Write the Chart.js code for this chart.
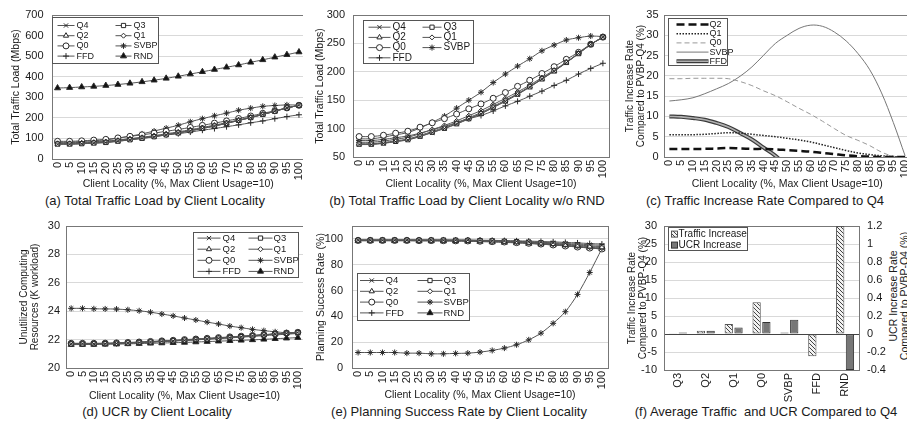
<!DOCTYPE html>
<html>
<head>
<meta charset="utf-8">
<script src="https://cdn.jsdelivr.net/npm/chart.js@4.4.1/dist/chart.umd.min.js"></script>
<style>
  html, body { margin: 0; padding: 0; background: #fff; overflow: hidden; }
  #page { position: relative; width: 907px; height: 421px; overflow: hidden; font-family: "Liberation Sans", Arial, sans-serif; color: #1a1a1a; }
  #leftcol { position: absolute; left: 0; top: 0; width: 303px; height: 421px; overflow: hidden; }
  .caption { position: absolute; width: 300px; font-size: 13px; line-height: 15px; text-align: center; white-space: pre; }
  .rtitle { position: absolute; width: 170px; height: 22px; font-size: 10.5px; line-height: 11px; text-align: center; white-space: nowrap; transform: rotate(-90deg); }
</style>
</head>
<body>
<div id="page">
  <div id="leftcol"></div>
  <div class="caption" style="left:5px;top:193px">(a) Total Traffic Load by Client Locality</div>
  <div class="caption" style="left:317px;top:193px">(b) Total Traffic Load by Client Locality w/o RND</div>
  <div class="caption" style="left:615px;top:193px">(c) Traffic Increase Rate Compared to Q4</div>
  <div class="caption" style="left:7px;top:404px">(d) UCR by Client Locality</div>
  <div class="caption" style="left:309px;top:404px">(e) Planning Success Rate by Client Locality</div>
  <div class="caption" style="left:616px;top:404px">(f) Average Traffic  and UCR Compared to Q4</div>
  <div class="rtitle" style="left:814px;top:285px">UCR Increase Rate<br>Compared to PVBP-Q4 (%)</div>
</div>
<script>
// ---- data ----
const locality = ['0', '5', '10', '15', '20', '25', '30', '35', '40', '45', '50',
    '55', '60', '65', '70', '75', '80', '85', '90', '95', '100'];

// total traffic load (Mbps)
const q4Traffic = [72, 72, 74, 77, 80, 86, 93, 100, 108, 117, 126, 137, 148, 160, 173, 187, 201, 216, 232, 248, 261];
const q3Traffic = [72.5, 72.5, 74.5, 77.5, 80.5, 86.5, 93.5, 100.5, 108.5, 117.5, 126.5, 137.5, 148.5, 160.5, 173.5, 187.5, 201.5, 216.5, 232, 248, 261];
const q2Traffic = [73.4, 73.4, 75.5, 78.5, 81.7, 87.9, 95, 102, 110.2, 119.2, 128.1, 139.1, 149.9, 161.6, 174.2, 187.7, 201.4, 216.2, 232, 248, 261];
const q1Traffic = [76, 76, 78.1, 81.2, 84.6, 91.2, 98.4, 105.5, 113.6, 122.7, 131.7, 142.5, 153.2, 164.5, 176.5, 189.8, 203, 217.1, 232.7, 248.5, 261];
const q0Traffic = [86, 86, 88.3, 91.9, 95.4, 102.5, 110.2, 117.5, 125.6, 134.8, 143.4, 153.4, 163.5, 174.4, 185.1, 196.9, 209, 222, 234.3, 248.5, 261];
const svbpTraffic = [82, 82, 85, 89, 93, 101, 111, 122, 136, 150, 164, 181, 196, 210, 223, 237, 247, 256, 260, 263, 262];
const ffdTraffic = [79, 79, 81, 84, 87, 92, 98, 104, 110.5, 117.4, 123, 131, 140, 148, 157, 166, 176, 185, 196, 206, 215];
const rndTraffic = [345, 347, 350, 353, 357, 362, 368, 375, 383, 392, 402, 413, 424, 435, 446, 457, 470, 482, 495, 507, 520];

// traffic increase rate compared to Q4 (%)
const q2Rate = [2, 2, 2, 2, 2.1, 2.2, 2.1, 2, 2, 1.9, 1.7, 1.5, 1.3, 1, 0.7, 0.4, 0.2, 0.1, 0, 0, 0];
const q1Rate = [5.5, 5.5, 5.5, 5.6, 5.8, 6, 5.9, 5.6, 5.3, 5, 4.6, 4.2, 3.7, 3, 2.3, 1.6, 1, 0.6, 0.3, 0.1, 0];
const q0Rate = [19.3, 19.3, 19.4, 19.4, 19.4, 19.3, 18.6, 17.6, 16.3, 15.1, 13.6, 12, 10.5, 8.8, 7, 5.3, 4.1, 2.8, 1.2, 0.2, 0];
const svbpRate = [13.8, 14.1, 14.6, 15.6, 16.8, 18.1, 19.9, 22.2, 25.1, 28, 30, 31.7, 32.5, 32.2, 30.8, 28.6, 25.5, 21.5, 15.8, 8.5, 0.3];
const ffdRate = [10, 9.9, 9.6, 9.2, 8.4, 7.4, 5.9, 4.3, 2.3, 0.3, -2.4, -4.4, -5.4, -7.5, -9.2, -11.2, -12.4, -14.4, -15.5, -16.9, -17.6];

// unutilized computing resources (K workload)
const q4Ucr = [21.70, 21.70, 21.70, 21.71, 21.73, 21.76, 21.79, 21.83, 21.87, 21.91, 21.95, 22.00, 22.04, 22.09, 22.14, 22.20, 22.26, 22.32, 22.38, 22.44, 22.50];
const q3Ucr = [21.70, 21.70, 21.71, 21.72, 21.74, 21.77, 21.80, 21.84, 21.88, 21.92, 21.96, 22.01, 22.05, 22.10, 22.15, 22.21, 22.27, 22.33, 22.39, 22.44, 22.50];
const q2Ucr = [21.71, 21.71, 21.71, 21.72, 21.74, 21.77, 21.80, 21.84, 21.88, 21.92, 21.97, 22.01, 22.06, 22.11, 22.16, 22.21, 22.27, 22.33, 22.39, 22.45, 22.50];
const q1Ucr = [21.72, 21.72, 21.72, 21.73, 21.75, 21.78, 21.81, 21.85, 21.89, 21.93, 21.98, 22.02, 22.07, 22.12, 22.17, 22.22, 22.28, 22.34, 22.40, 22.45, 22.50];
const q0Ucr = [21.74, 21.74, 21.74, 21.75, 21.77, 21.80, 21.83, 21.87, 21.91, 21.95, 22.00, 22.04, 22.09, 22.14, 22.19, 22.24, 22.29, 22.35, 22.40, 22.46, 22.51];
const svbpUcr = [24.20, 24.20, 24.17, 24.16, 24.15, 24.10, 24.03, 23.93, 23.80, 23.67, 23.52, 23.38, 23.23, 23.10, 22.95, 22.84, 22.72, 22.63, 22.55, 22.48, 22.45];
const ffdUcr = [21.70, 21.70, 21.70, 21.71, 21.73, 21.75, 21.78, 21.82, 21.86, 21.90, 21.94, 21.98, 22.03, 22.07, 22.12, 22.17, 22.22, 22.28, 22.33, 22.38, 22.43];
const rndUcr = [21.65, 21.65, 21.66, 21.67, 21.68, 21.70, 21.72, 21.74, 21.76, 21.78, 21.80, 21.83, 21.86, 21.89, 21.92, 21.95, 21.98, 22.02, 22.06, 22.10, 22.14];

// planning success rate (%)
const q4Success = [99, 99, 99, 99, 99, 99, 99, 99, 99, 99, 98.8, 98.6, 98.4, 98.1, 97.8, 97.4, 97, 96.5, 96, 95.5, 95];
const q3Success = [99, 99, 99, 99, 99, 99, 99, 99, 98.9, 98.9, 98.7, 98.5, 98.2, 97.9, 97.5, 97, 96.5, 95.9, 95.3, 94.6, 94];
const q2Success = [99, 99, 99, 99, 99, 99, 99, 98.9, 98.9, 98.8, 98.6, 98.4, 98.1, 97.7, 97.3, 96.7, 96.1, 95.4, 94.7, 94, 93.3];
const q1Success = [99, 99, 99, 99, 99, 98.9, 98.9, 98.8, 98.8, 98.7, 98.5, 98.3, 97.9, 97.5, 97, 96.4, 95.8, 95, 94.2, 93.5, 92.8];
const q0Success = [98.8, 98.8, 98.8, 98.8, 98.8, 98.7, 98.7, 98.6, 98.5, 98.4, 98.2, 97.9, 97.6, 97.1, 96.6, 96, 95.3, 94.5, 93.7, 92.9, 92.2];
const svbpSuccess = [12, 12, 12, 12, 11.5, 11.5, 11, 11, 11.3, 11.5, 12.3, 13.6, 15.4, 18, 21.8, 27, 34.6, 43.6, 57, 74, 92.5];
const ffdSuccess = [99.2, 99.2, 99.2, 99.2, 99.2, 99.2, 99.2, 99.2, 99.1, 99.1, 99, 98.9, 98.7, 98.5, 98.3, 98, 97.7, 97.3, 96.9, 96.4, 96];
const rndSuccess = [98.5, 98.5, 98.5, 98.5, 98.5, 98.4, 98.4, 98.3, 98.2, 98.1, 97.9, 97.6, 97.3, 96.9, 96.4, 95.9, 95.3, 94.6, 93.8, 93, 92.2];

// averages compared to Q4 (%)
const algorithms = ['Q3', 'Q2', 'Q1', 'Q0', 'SVBP', 'FFD', 'RND'];
const trafficAvg = [0.2, 0.9, 2.75, 8.85, 0.45, -6.2, 30];
const ucrAvg = [0.018, 0.037, 0.073, 0.132, 0.158, -0.005, -0.4];

// ---- drawing ----
const textColor = '#1a1a1a';
const fontFamily = '"Liberation Sans", Arial, sans-serif';
Chart.defaults.font.family = fontFamily;
Chart.defaults.color = textColor;

const xTitleText = 'Client Locality (%, Max Client Usage=10)';

function addCanvas(p) {
    const cv = document.createElement('canvas');
    cv.width = p.x1 - p.x0;
    cv.height = p.y1 - p.y0;
    cv.style.position = 'absolute';
    cv.style.left = p.x0 + 'px';
    cv.style.top = p.y0 + 'px';
    document.getElementById(p.parent || 'page').appendChild(cv);
    return cv;
}

// plot border, drawn over the grid lines
const frame = {
    id: 'frame',
    beforeDatasetsDraw(chart) {
        const a = chart.chartArea, ctx = chart.ctx;
        ctx.save();
        ctx.strokeStyle = '#777';
        ctx.lineWidth = 1;
        ctx.strokeRect(Math.round(a.left) + 0.5, Math.round(a.top) + 0.5,
            Math.round(a.right - a.left), Math.round(a.bottom - a.top));
        ctx.restore();
    }
};

// legend box inside the plot area (Excel style)
function boxLegend(spec) {
    return {
        id: 'boxLegend',
        afterDraw(chart) {
            const ctx = chart.ctx, a = chart.chartArea;
            const bx = Math.round(a.left + spec.x) + 0.5;
            const by = Math.round(a.top + spec.y) + 0.5;
            ctx.save();
            ctx.fillStyle = '#fff';
            ctx.fillRect(bx, by, spec.w, spec.h);
            ctx.strokeStyle = '#555';
            ctx.lineWidth = 1;
            ctx.strokeRect(bx, by, spec.w, spec.h);
            ctx.font = spec.font + 'px ' + fontFamily;
            ctx.textBaseline = 'middle';
            spec.items.forEach((item, i) => {
                const col = spec.cols[i % spec.cols.length];
                const cy = by + spec.first + Math.floor(i / spec.cols.length) * spec.rowH;
                [].concat(item.ds).forEach(k => {
                    const ds = chart.data.datasets[k];
                    if (chart.config.type === 'bar') {
                        ctx.fillStyle = ds.backgroundColor;
                        ctx.fillRect(bx + col.l0, cy - 3, col.l1 - col.l0, 6);
                        ctx.strokeStyle = ds.borderColor;
                        ctx.lineWidth = 1;
                        ctx.strokeRect(bx + col.l0, cy - 3, col.l1 - col.l0, 6);
                        return;
                    }
                    ctx.strokeStyle = ds.borderColor;
                    ctx.lineWidth = ds.borderWidth;
                    ctx.setLineDash(ds.borderDash || []);
                    ctx.beginPath();
                    ctx.moveTo(bx + col.l0, cy);
                    ctx.lineTo(bx + col.l1, cy);
                    ctx.stroke();
                    ctx.setLineDash([]);
                    if (ds.pointRadius > 0 && Chart.helpers && Chart.helpers.drawPoint) {
                        ctx.fillStyle = ds.pointBackgroundColor;
                        ctx.strokeStyle = ds.pointBorderColor;
                        ctx.lineWidth = ds.pointBorderWidth;
                        Chart.helpers.drawPoint(ctx, {
                            pointStyle: ds.pointStyle, radius: ds.pointRadius,
                            rotation: 0, borderWidth: ds.pointBorderWidth
                        }, bx + (col.l0 + col.l1) / 2, cy);
                    }
                });
                ctx.fillStyle = textColor;
                ctx.fillText(item.label, bx + col.tx, cy);
            });
            ctx.restore();
        }
    };
}

function series(label, data, style, fill, radius) {
    return {
        label: label,
        data: data,
        borderColor: '#555',
        borderWidth: 1,
        pointStyle: style,
        pointRadius: radius || 3,
        pointBackgroundColor: fill || '#fff',
        pointBorderColor: '#2a2a2a',
        pointBorderWidth: 1,
        tension: 0.3,
        fill: false
    };
}

function xAxis(p) {
    return {
        type: 'category',
        offset: true,
        grid: { display: false, drawTicks: false },
        border: { display: false },
        ticks: { autoSkip: false, minRotation: 90, maxRotation: 90, padding: 3, font: { size: 11 } },
        title: {
            display: !!p.xTitleY, text: xTitleText, font: { size: 10.5, lineHeight: 1 },
            padding: { top: 0, bottom: p.y1 - (p.xTitleY || 0) - 5.25 }
        },
        afterFit: s => { s.height = p.y1 - p.area.b; s.paddingLeft = 0; s.paddingRight = 0; }
    };
}

function yAxis(p) {
    // two-line titles are a bit smaller with a little more line gap
    const twoLines = Array.isArray(p.yTitle);
    const size = twoLines ? 10 : 10.5;
    const lh = twoLines ? 1.1 : 1;
    return {
        min: p.min,
        max: p.max,
        grid: { color: p.gridColor || '#d9d9d9', drawTicks: false },
        border: { display: false },
        ticks: { stepSize: p.step, padding: p.tickPad, font: { size: 11 }, includeBounds: false },
        title: {
            display: true, text: p.yTitle, font: { size: size, lineHeight: lh },
            padding: { top: p.yTitleX - p.x0 - size * lh / 2, bottom: 0 }
        },
        afterFit: s => { s.width = p.area.l - p.x0; s.paddingTop = 0; s.paddingBottom = 0; }
    };
}

function lineChart(p, datasets, legend) {
    return new Chart(addCanvas(p), {
        type: 'line',
        data: { labels: locality, datasets: datasets },
        options: {
            responsive: false,
            animation: false,
            events: [],
            layout: { padding: { left: 0, top: p.area.t - p.y0, right: p.x1 - p.area.r, bottom: 0 } },
            plugins: { legend: { display: false }, tooltip: { enabled: false } },
            scales: { x: xAxis(p), y: yAxis(p) }
        },
        plugins: [frame, boxLegend(legend)]
    });
}

const eightLegend = [
    { label: 'Q4', ds: 0 }, { label: 'Q3', ds: 1 }, { label: 'Q2', ds: 2 }, { label: 'Q1', ds: 3 },
    { label: 'Q0', ds: 4 }, { label: 'SVBP', ds: 5 }, { label: 'FFD', ds: 6 }, { label: 'RND', ds: 7 }
];

function allSeries(q4, q3, q2, q1, q0, svbp, ffd, rnd) {
    const list = [
        series('Q4', q4, 'crossRot'),
        series('Q3', q3, 'rect'),
        series('Q2', q2, 'triangle'),
        series('Q1', q1, 'rectRot', '#fff', 2.5),
        series('Q0', q0, 'circle'),
        series('SVBP', svbp, 'star'),
        series('FFD', ffd, 'cross')
    ];
    if (rnd) list.push(series('RND', rnd, 'triangle', '#111', 3.5));
    return list;
}

// (a)
lineChart({
    parent: 'leftcol', x0: 0, y0: 0, x1: 320, y1: 192,
    area: { l: 51.5, t: 15, r: 305, b: 159 },
    min: 0, max: 700, step: 100, tickPad: 8,
    yTitle: 'Total Traffic Load (Mbps)', yTitleX: 16.5, xTitleY: 184
}, allSeries(q4Traffic, q3Traffic, q2Traffic, q1Traffic, q0Traffic, svbpTraffic, ffdTraffic, rndTraffic), {
    x: 0.5, y: 2, w: 106, h: 46, first: 8, rowH: 10.2, font: 9,
    cols: [{ l0: 5, l1: 22, tx: 24 }, { l0: 63, l1: 79, tx: 81 }], items: eightLegend
});

// (b)
lineChart({
    x0: 308, y0: 0, x1: 622, y1: 192,
    area: { l: 353, t: 15, r: 609, b: 157 },
    min: 50, max: 300, step: 50, tickPad: 8,
    yTitle: 'Total Traffic Load (Mbps)', yTitleX: 320.5, xTitleY: 184
}, allSeries(q4Traffic, q3Traffic, q2Traffic, q1Traffic, q0Traffic, svbpTraffic, ffdTraffic), {
    x: 10, y: 5, w: 110, h: 43, first: 6.7, rowH: 10.2, font: 10,
    cols: [{ l0: 5, l1: 27, tx: 29 }, { l0: 59, l1: 78, tx: 80 }], items: eightLegend.slice(0, 7)
});

// (c)
function rateLine(label, data, color, width, dash) {
    return { label: label, data: data, borderColor: color, borderWidth: width, borderDash: dash,
        pointRadius: 0, tension: 0.35, fill: false };
}
lineChart({
    x0: 614, y0: 0, x1: 925, y1: 192,
    area: { l: 663.5, t: 15, r: 911, b: 157 },
    min: 0, max: 35, step: 5, tickPad: 5,
    yTitle: ['Traffic Increase Rate', 'Compared to PVBP-Q4 (%)'], yTitleX: 630.5, xTitleY: 184
}, [
    rateLine('Q2', q2Rate, '#111', 2.5, [8, 4]),
    rateLine('Q1', q1Rate, '#222', 1.5, [1.5, 1.5]),
    rateLine('Q0', q0Rate, '#999', 1, [5, 3]),
    rateLine('SVBP', svbpRate, '#777', 1, []),
    rateLine('FFD', ffdRate, '#b0b0b0', 1.6, []),
    rateLine('FFD', ffdRate, '#3a3a3a', 4, [])
], {
    x: 4.5, y: 3, w: 59, h: 47, first: 6, rowH: 9.2, font: 9,
    cols: [{ l0: 8, l1: 40, tx: 41 }],
    items: [{ label: 'Q2', ds: 0 }, { label: 'Q1', ds: 1 }, { label: 'Q0', ds: 2 },
        { label: 'SVBP', ds: 3 }, { label: 'FFD', ds: [5, 4] }]
});

// (d)
lineChart({
    parent: 'leftcol', x0: 0, y0: 212, x1: 320, y1: 403,
    area: { l: 65.5, t: 226, r: 303.5, b: 368 },
    min: 20, max: 30, step: 2, tickPad: 5.5,
    yTitle: ['Unutilized Computing', 'Resources (K workload)'], yTitleX: 24.5, xTitleY: 396
}, allSeries(q4Ucr, q3Ucr, q2Ucr, q1Ucr, q0Ucr, svbpUcr, ffdUcr, rndUcr), {
    x: 127.5, y: 5.7, w: 105, h: 45, first: 5.6, rowH: 11.1, font: 9.5,
    cols: [{ l0: 4, l1: 27, tx: 29 }, { l0: 55, l1: 79, tx: 80 }], items: eightLegend
});

// (e)
lineChart({
    x0: 308, y0: 212, x1: 622, y1: 403,
    area: { l: 352, t: 226, r: 608, b: 368 },
    min: 0, max: 110, step: 20, tickPad: 9,
    yTitle: 'Planning Success Rate (%)', yTitleX: 321, xTitleY: 395.5
}, allSeries(q4Success, q3Success, q2Success, q1Success, q0Success, svbpSuccess, ffdSuccess, rndSuccess), {
    x: 4.7, y: 47, w: 112, h: 47, first: 7, rowH: 10.8, font: 9.5,
    cols: [{ l0: 2.5, l1: 26, tx: 28 }, { l0: 60, l1: 85, tx: 86 }], items: eightLegend
});

// (f)
function hatchPattern() {
    const c = document.createElement('canvas');
    c.width = 4;
    c.height = 4;
    const g = c.getContext('2d');
    g.fillStyle = '#f2f2f2';
    g.fillRect(0, 0, 4, 4);
    g.strokeStyle = '#444';
    g.lineWidth = 1;
    g.beginPath();
    g.moveTo(0, 0); g.lineTo(4, 4);
    g.moveTo(-1, 3); g.lineTo(1, 5);
    g.moveTo(3, -1); g.lineTo(5, 1);
    g.stroke();
    return g.createPattern(c, 'repeat');
}

const pf = {
    x0: 614, y0: 212, x1: 907, y1: 403,
    area: { l: 664, t: 226, r: 859, b: 370 },
    min: -10, max: 30, step: 5, tickPad: 7,
    yTitle: ['Traffic Increase Rate', 'Compared to PVBP-Q4 (%)'], yTitleX: 632.5,
    gridColor: c => (c.tick && c.tick.value === 0 ? '#444' : '#d9d9d9')
};
const fX = xAxis(pf);
const fY = yAxis(pf);
new Chart(addCanvas(pf), {
    type: 'bar',
    data: {
        labels: algorithms,
        datasets: [
            { label: 'Traffic Increase', data: trafficAvg, yAxisID: 'y', backgroundColor: hatchPattern(),
              borderColor: '#555', borderWidth: 1, borderSkipped: false, barPercentage: 0.85, categoryPercentage: 0.7 },
            { label: 'UCR Increase', data: ucrAvg, yAxisID: 'y1', backgroundColor: '#777',
              borderColor: '#333', borderWidth: 1, borderSkipped: false, barPercentage: 0.85, categoryPercentage: 0.7 }
        ]
    },
    options: {
        responsive: false,
        animation: false,
        events: [],
        layout: { padding: { left: 0, top: pf.area.t - pf.y0, right: 0, bottom: 0 } },
        plugins: { legend: { display: false }, tooltip: { enabled: false } },
        scales: {
            x: fX,
            y: fY,
            y1: {
                position: 'right',
                min: -0.4,
                max: 1.2,
                grid: { drawOnChartArea: false, drawTicks: false },
                border: { display: false },
                ticks: { stepSize: 0.2, padding: 8, font: { size: 11 },
                    callback: v => String(Math.round(v * 10) / 10) },
                afterFit: s => { s.width = pf.x1 - pf.area.r; s.paddingTop = 0; s.paddingBottom = 0; }
            }
        }
    },
    plugins: [frame, boxLegend({
        x: 4, y: 0.7, w: 79, h: 23, first: 6.6, rowH: 11, font: 10,
        cols: [{ l0: 3, l1: 9, tx: 10 }],
        items: [{ label: 'Traffic Increase', ds: 0 }, { label: 'UCR Increase', ds: 1 }]
    })]
});
</script>
</body>
</html>
